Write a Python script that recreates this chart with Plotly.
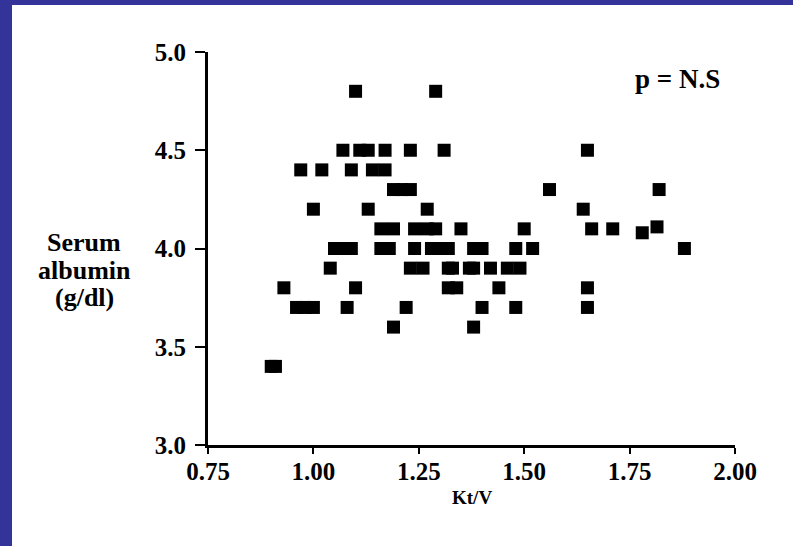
import plotly.graph_objects as go

# Data (Kt/V vs serum albumin)
kt_v = [
    1.10, 1.29,
    1.07, 1.11, 1.13, 1.17, 1.23, 1.31, 1.65,
    0.97, 1.02, 1.09, 1.14, 1.17,
    1.19, 1.21, 1.23, 1.56, 1.82,
    1.00, 1.13, 1.27, 1.64,
    1.16, 1.19, 1.24, 1.27, 1.29, 1.35, 1.50, 1.66, 1.71, 1.815,
    1.78,
    1.05, 1.07, 1.09, 1.16, 1.18, 1.24, 1.28, 1.30, 1.32, 1.38, 1.40, 1.48, 1.52, 1.88,
    1.04, 1.23, 1.26, 1.32, 1.33, 1.37, 1.38, 1.42, 1.46, 1.49,
    0.93, 1.10, 1.32, 1.34, 1.44, 1.65,
    0.96, 0.98, 1.00, 1.08, 1.22, 1.40, 1.48, 1.65,
    1.19, 1.38,
    0.90, 0.91,
]
albumin = (
    [4.8] * 2
    + [4.5] * 7
    + [4.4] * 5
    + [4.3] * 5
    + [4.2] * 4
    + [4.1] * 9 + [4.11]
    + [4.08]
    + [4.0] * 14
    + [3.9] * 10
    + [3.8] * 6
    + [3.7] * 8
    + [3.6] * 2
    + [3.4] * 2
)

x_ticks = [0.75, 1.00, 1.25, 1.50, 1.75, 2.00]
x_tick_labels = ["0.75", "1.00", "1.25", "1.50", "1.75", "2.00"]
y_ticks = [3.0, 3.5, 4.0, 4.5, 5.0]
y_tick_labels = ["3.0", "3.5", "4.0", "4.5", "5.0"]
y_title_lines = ["Serum", "albumin", "(g/dl)"]

FONT = "Liberation Serif"
BLUE = "#333399"

W, H = 793, 546
ML, MR, MT, MB = 208, 58, 52, 101
PW = W - ML - MR
PH = H - MT - MB

def px_x(p):
    return (p - ML) / PW

def px_y(p):
    return (H - MB - p) / PH

fig = go.Figure()
fig.add_trace(go.Scatter(
    x=kt_v, y=albumin, mode="markers",
    marker=dict(symbol="square", size=13, color="black", line=dict(width=0)),
    showlegend=False, hoverinfo="x+y",
))

annotations = [
    dict(text="p = N.S", xref="paper", yref="paper", x=px_x(677), y=px_y(79),
         showarrow=False, xanchor="center", yanchor="middle",
         font=dict(family=FONT, size=27, color="black", weight="bold")),
    dict(text="Kt/V", xref="paper", yref="paper", x=px_x(472), y=px_y(497),
         showarrow=False, xanchor="center", yanchor="middle",
         font=dict(family=FONT, size=19, color="black", weight="bold")),
]
for i, line in enumerate(y_title_lines):
    annotations.append(dict(
        text=line, xref="paper", yref="paper", x=px_x(84), y=px_y(243 + 27 * i),
        showarrow=False, xanchor="center", yanchor="middle",
        font=dict(family=FONT, size=26, color="black", weight="bold")))

fig.update_layout(
    width=W, height=H,
    margin=dict(l=ML, r=MR, t=MT, b=MB),
    paper_bgcolor=BLUE, plot_bgcolor="rgba(0,0,0,0)",
    font=dict(family=FONT, color="black"),
    xaxis=dict(
        range=[0.75, 2.0], tickvals=x_ticks, ticktext=x_tick_labels,
        showgrid=False, zeroline=False, showline=True, linecolor="black", linewidth=3,
        ticks="outside", ticklen=6, tickwidth=2, tickcolor="black",
        ticklabelstandoff=-4,
        tickfont=dict(family=FONT, size=25, color="black", weight="bold"),
    ),
    yaxis=dict(
        range=[3.0, 5.0], tickvals=y_ticks, ticktext=y_tick_labels,
        showgrid=False, zeroline=False, showline=True, linecolor="black", linewidth=3,
        ticks="outside", ticklen=10, tickwidth=2, tickcolor="black",
        ticklabelstandoff=4,
        tickfont=dict(family=FONT, size=25, color="black", weight="bold"),
    ),
    shapes=[
        dict(type="rect", xref="paper", yref="paper",
             x0=px_x(12), x1=px_x(W + 5), y0=px_y(H + 5), y1=px_y(5),
             fillcolor="white", line=dict(width=0), layer="below"),
    ],
    annotations=annotations,
)

fig.write_html(
    "out.html",
    config={"displayModeBar": False},
    post_script="document.body.style.margin='0';document.body.style.overflow='hidden';",
)
